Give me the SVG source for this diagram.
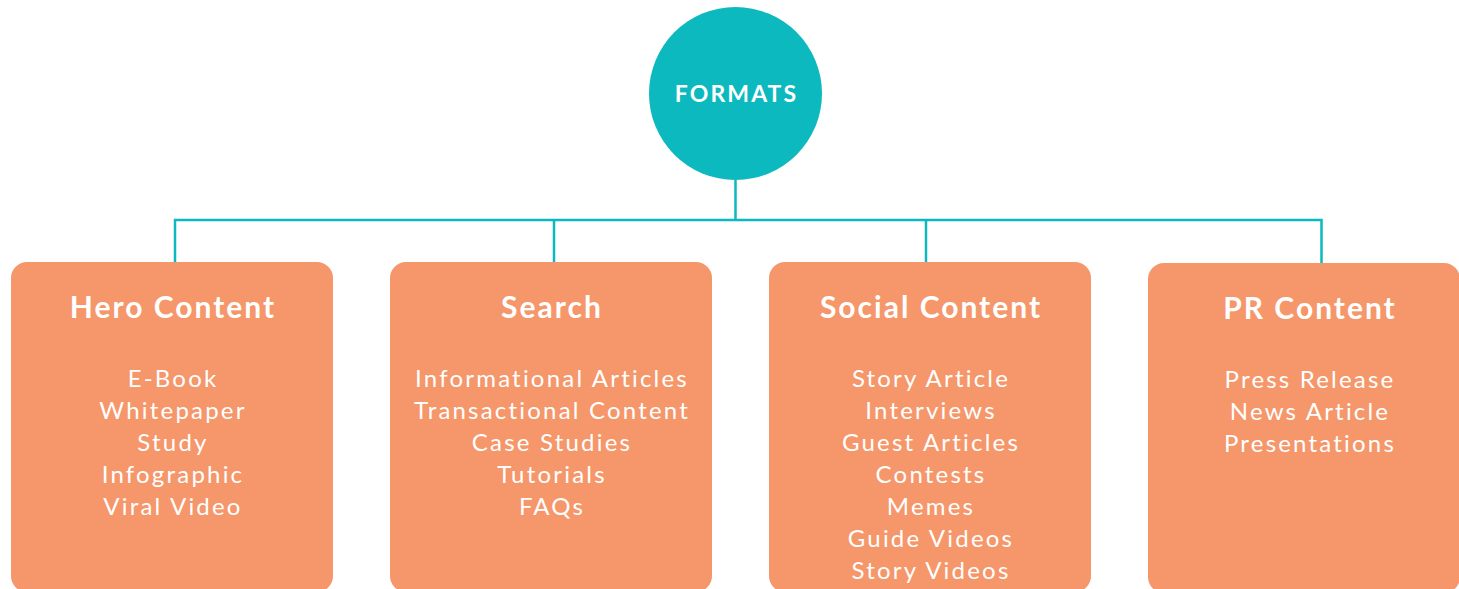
<svg xmlns="http://www.w3.org/2000/svg" width="1459" height="589" viewBox="0 0 1459 589">
  <style>
    .card { fill: #F5976A; }
    .hub { fill: #0BB9BE; }
    .wire { fill: none; stroke: #0BB9BE; stroke-width: 2.5; stroke-linejoin: miter; }
    .title { font-family: Lato, "Open Sans", sans-serif; font-weight: 700; font-size: 30px; fill: #FFFFFF; text-anchor: middle; letter-spacing: 2px; }
    .item { font-family: Lato, "Open Sans", sans-serif; font-weight: 400; font-size: 24px; fill: #FFFFFF; text-anchor: middle; letter-spacing: 2.2px; }
    .hubtext { font-family: Lato, "Open Sans", sans-serif; font-weight: 700; font-size: 23px; fill: #FFFFFF; text-anchor: middle; letter-spacing: 2.1px; }
  </style>
  <rect width="1459" height="589" fill="#FFFFFF"/>

  <g id="connectors">
    <path class="wire" d="M735.5 180 V220"/>
    <path class="wire" d="M175 262 V220 H1321.5 V263"/>
    <path class="wire" d="M554 262 V220"/>
    <path class="wire" d="M926 262 V220"/>
  </g>

  <g id="formats">
    <circle class="hub" cx="735.5" cy="93.5" r="86.5"/>
    <text class="hubtext" x="736.5" y="102">FORMATS</text>
  </g>

  <g id="hero-content">
    <rect class="card" x="11" y="262" width="322" height="330" rx="16"/>
    <text class="title" x="173" y="318">Hero Content</text>
    <text class="item" x="173" y="387">E-Book</text>
    <text class="item" x="173" y="419">Whitepaper</text>
    <text class="item" x="173" y="451">Study</text>
    <text class="item" x="173" y="483">Infographic</text>
    <text class="item" x="173" y="515">Viral Video</text>
  </g>

  <g id="search">
    <rect class="card" x="390" y="262" width="322" height="330" rx="16"/>
    <text class="title" x="552" y="318">Search</text>
    <text class="item" x="552" y="387">Informational Articles</text>
    <text class="item" x="552" y="419">Transactional Content</text>
    <text class="item" x="552" y="451">Case Studies</text>
    <text class="item" x="552" y="483">Tutorials</text>
    <text class="item" x="552" y="515">FAQs</text>
  </g>

  <g id="social-content">
    <rect class="card" x="769" y="262" width="322" height="330" rx="16"/>
    <text class="title" x="931" y="318">Social Content</text>
    <text class="item" x="931" y="387">Story Article</text>
    <text class="item" x="931" y="419">Interviews</text>
    <text class="item" x="931" y="451">Guest Articles</text>
    <text class="item" x="931" y="483">Contests</text>
    <text class="item" x="931" y="515">Memes</text>
    <text class="item" x="931" y="547">Guide Videos</text>
    <text class="item" x="931" y="579">Story Videos</text>
  </g>

  <g id="pr-content">
    <rect class="card" x="1148" y="263" width="312" height="330" rx="16"/>
    <text class="title" x="1310" y="319">PR Content</text>
    <text class="item" x="1310" y="388">Press Release</text>
    <text class="item" x="1310" y="420">News Article</text>
    <text class="item" x="1310" y="452">Presentations</text>
  </g>
</svg>
